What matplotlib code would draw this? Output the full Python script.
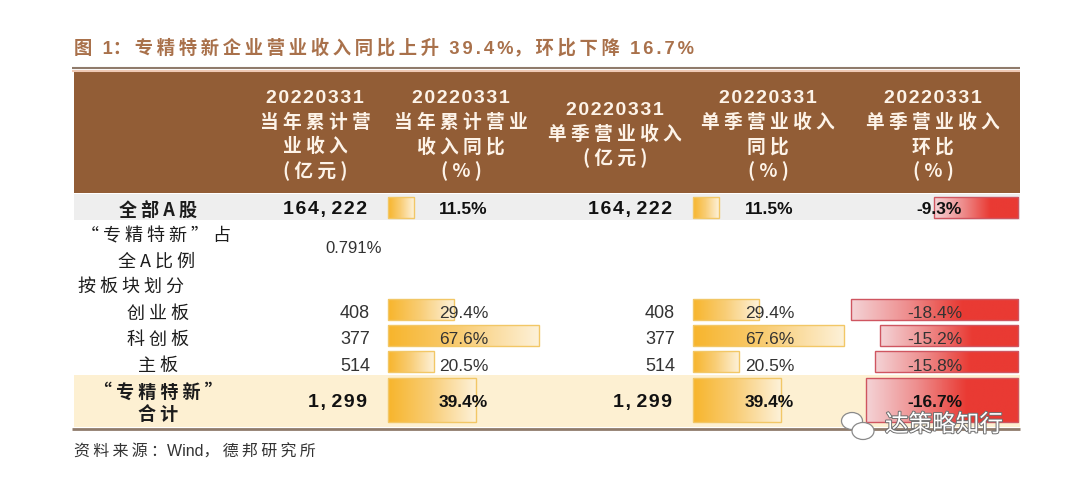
"""Revenue table with in-cell data bars, drawn on a pixel-sized canvas."""
import matplotlib
matplotlib.use("Agg")
import matplotlib.pyplot as plt
import matplotlib.patheffects as pe
import numpy as np
from matplotlib.colors import LinearSegmentedColormap
from matplotlib.patches import Ellipse

CJK = ["Noto Sans CJK SC", "DejaVu Sans"]
LATIN = ["Liberation Sans", "Noto Sans CJK SC", "DejaVu Sans"]
plt.rcParams["font.family"] = CJK
THIN = "\u2009"
HAIR = "\u200a"

# data
title = "图  1\uff1a专精特新企业营业收入同比上升  39.4%\uff0c环比下降  16.7%"
source = "资料来源\uff1aWind\uff0c德邦研究所"
header_date = "20220331"
headers = [
    ["当 年 累 计 营", "业 收 入", "( 亿 元 )"],
    ["当 年 累 计 营 业", "收 入 同 比", "( % )"],
    ["单 季 营 业 收 入", "( 亿 元 )"],
    ["单 季 营 业 收 入", "同 比", "( % )"],
    ["单 季 营 业 收 入", "环 比", "( % )"],
]
row_names = ["全 部 A 股", "创 业 板", "科 创 板", "主 板", "“ 专 精 特 新 ”\n合 计"]
cumulative_rev = [164222, 408, 377, 514, 1299]
cumulative_yoy = [11.5, 29.4, 67.6, 20.5, 39.4]
quarter_rev = [164222, 408, 377, 514, 1299]
quarter_yoy = [11.5, 29.4, 67.6, 20.5, 39.4]
quarter_qoq = [-9.3, -18.4, -15.2, -15.8, -16.7]
share_labels = ["“ 专 精 特 新 ” 占", "全 A 比 例"]
share_value = "0.791%"
group_label = "按 板 块 划 分"

# layout, in pixels of the 1079x490 canvas
header_x = [315, 461, 615, 768, 933]
label_y = [210.5, 314, 340, 366, 403]
bar_top = [197, 299, 325, 351, 378]
bar_h = [21, 21, 21, 21, 44]
text_y = [209, 313, 339, 366, 402]
bold_rows = {0, 4}
YOY_SCALE = 2.23
QOQ_SCALE = 9.08
BROWN = "#925D36"

orange = LinearSegmentedColormap.from_list("o", ["#F7B52C", "#F9CE78", "#FDF1D8"])
red = LinearSegmentedColormap.from_list("r", ["#F4D3D6", "#EE8E8E", "#E93A33", "#E93A33"])

fig = plt.figure(figsize=(10.79, 4.90), dpi=100)
ax = fig.add_axes([0, 0, 1, 1])


def gradient_bar(left, top, width, height, cmap, edge):
    bar = ax.barh(top + height / 2, width, height=height, left=left,
                  facecolor="none", edgecolor=edge, linewidth=1.0, zorder=3)[0]
    grad = np.linspace(0, 1, 128).reshape(1, -1)
    img = ax.imshow(grad, cmap=cmap, aspect="auto", zorder=2,
                    extent=(left, left + width, top + height, top))
    img.set_clip_path(bar)


def tracked(s):
    # CJK glyphs get a thin gap, digits a hair gap
    out = ""
    for a, b in zip(s, s[1:] + " "):
        out += a
        if ord(a) > 0x2E80 and ord(b) > 0x2E80:
            out += THIN
        elif a in "0123456789." and b in "0123456789.%":
            out += HAIR + HAIR
    return out


def hair(s):
    return HAIR.join(s).replace(",", "," + THIN)


# bands and rules
ax.axhspan(72, 193, xmin=74 / 1079, xmax=1020 / 1079, color=BROWN, lw=0, zorder=1)
ax.axhspan(194, 220, xmin=74 / 1079, xmax=1020 / 1079, color="#EEEEEE", lw=0, zorder=1)
ax.axhspan(375, 427, xmin=74 / 1079, xmax=1020 / 1079, color="#FDF0D2", lw=0, zorder=1)
ax.hlines(68.5, 72, 1020, color="#8F7B6B", lw=1.5, zorder=1)
ax.hlines(70.8, 72, 1020, color="#EFC9B4", lw=1.5, zorder=1)
ax.hlines(429, 72, 1020, color="#8F7B6B", lw=2, zorder=1)

ax.text(74, 48, tracked(title), fontsize=13.2, fontweight="bold", color="#A9714B",
        family=LATIN, ha="left", va="center")

# header text
for x, lines in zip(header_x, headers):
    y0 = 98 if len(lines) == 3 else 110
    ax.text(x, y0, hair(header_date), family=LATIN, color="#FDF3E8", fontsize=14,
            fontweight="bold", ha="center", va="center", zorder=4)
    for j, line in enumerate(lines):
        ax.text(x, y0 + 24.3 * (j + 1), line, color="#FDF3E8", fontsize=13.5,
                fontweight="bold", ha="center", va="center", family=CJK, zorder=4)

# data bars
for i in range(5):
    gradient_bar(388, bar_top[i], cumulative_yoy[i] * YOY_SCALE, bar_h[i], orange, "#F2C766")
    gradient_bar(693, bar_top[i], quarter_yoy[i] * YOY_SCALE, bar_h[i], orange, "#F2C766")
    w = abs(quarter_qoq[i]) * QOQ_SCALE
    gradient_bar(1018 - w, bar_top[i], w, bar_h[i], red, "#CF5560")

# row text
for i in range(5):
    bold = i in bold_rows
    weight = "bold" if bold else "normal"
    color = "#111111" if bold else "#333333"
    ax.text(158, label_y[i], row_names[i], fontsize=13, fontweight=weight, color="#1C1C1C",
            ha="center", va="center", linespacing=1.2, zorder=4)
    y = text_y[i]
    for x, val in ((367 if bold else 370, cumulative_rev[i]), (672 if bold else 675, quarter_rev[i])):
        label = hair(f"{val:,}") if bold else f"{val:,}"
        ax.text(x, y, label, family=LATIN, fontsize=14 if bold else 13, fontweight=weight,
                color=color, ha="right", va="center", zorder=4)
    for x, val in ((488, cumulative_yoy[i]), (794, quarter_yoy[i]), (962, quarter_qoq[i])):
        ax.text(x, y, f"{val:.1f}%", family=LATIN, fontsize=12.5, fontweight=weight,
                color=color, ha="right", va="center", zorder=4)

for y, line in zip((236, 262), share_labels):
    ax.text(156, y, line, fontsize=13, color="#1C1C1C", ha="center", va="center", zorder=4)
ax.text(382, 248, share_value, family=LATIN, fontsize=12, color="#333333",
        ha="right", va="center", zorder=4)
ax.text(78, 287, group_label, fontsize=13, color="#1C1C1C", ha="left", va="center", zorder=4)
ax.text(74, 452, tracked(source), family=LATIN, fontsize=11.5, color="#333333",
        ha="left", va="center")

# watermark
outline = [pe.withStroke(linewidth=1.4, foreground="#6E6E6E")]
for cx, cy, ew, eh in ((852, 421, 21, 17), (863, 431, 22, 17)):
    ax.add_patch(Ellipse((cx, cy), ew, eh, facecolor="white", edgecolor="#8A8A8A",
                         lw=0.9, zorder=6))
ax.text(944, 425, "达策略知行", fontsize=17, color="white", ha="center", va="center",
        path_effects=outline, zorder=7)

ax.set_xlim(0, 1079)
ax.set_ylim(490, 0)
ax.axis("off")
fig.savefig("out.png", dpi=100, facecolor="white")
plt.close(fig)
